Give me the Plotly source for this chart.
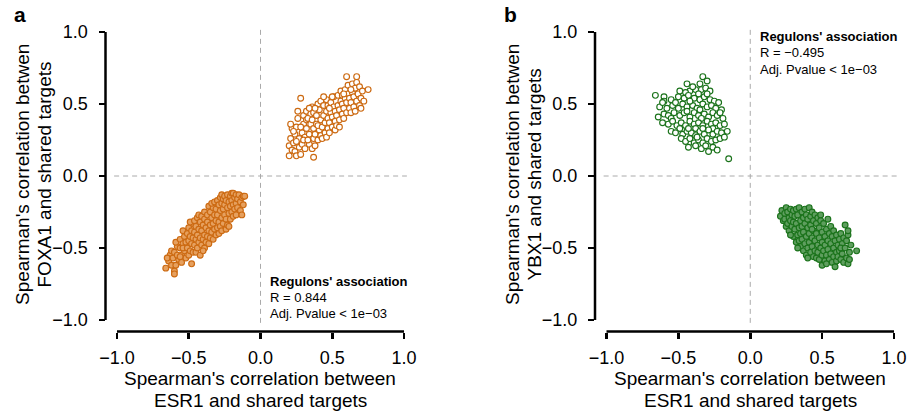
import plotly.graph_objects as go

# ---------------- data ----------------
TICK_VALS = [-1.0, -0.5, 0.0, 0.5, 1.0]
TICK_TEXT = ["\u22121.0", "\u22120.5", "0.0", "0.5", "1.0"]

X_TITLE = ["Spearman's correlation between", "ESR1 and shared targets"]
Y_TITLE_A = ["Spearman's correlation betwen", "FOXA1 and shared targets"]
Y_TITLE_B = ["Spearman's correlation betwen", "YBX1 and shared targets"]
STATS_A = ["Regulons' association", "R = 0.844", "Adj. Pvalue < 1e\u221203"]
STATS_B = ["Regulons' association", "R = \u22120.495", "Adj. Pvalue < 1e\u221203"]

# panel a, positive quadrant (open circles)
A_POS = [
    (0.20, 0.14), (0.20, 0.21), (0.21, 0.26), (0.22, 0.18), (0.22, 0.33), (0.21, 0.36),
    (0.24, 0.17), (0.25, 0.14), (0.23, 0.23), (0.24, 0.29), (0.25, 0.34), (0.26, 0.40),
    (0.26, 0.45), (0.27, 0.20), (0.27, 0.26), (0.25, 0.24), (0.23, 0.31),
    (0.28, 0.54), (0.28, 0.15), (0.29, 0.22), (0.29, 0.30), (0.30, 0.36), (0.30, 0.42),
    (0.31, 0.19), (0.31, 0.27), (0.32, 0.33), (0.32, 0.39), (0.28, 0.34), (0.30, 0.25), (0.32, 0.45),
    (0.37, 0.13), (0.34, 0.22), (0.34, 0.29), (0.35, 0.36), (0.35, 0.43), (0.36, 0.48),
    (0.36, 0.19), (0.37, 0.26), (0.37, 0.33), (0.33, 0.40), (0.34, 0.47), (0.36, 0.39),
    (0.33, 0.25), (0.37, 0.44),
    (0.38, 0.21), (0.38, 0.29), (0.39, 0.36), (0.39, 0.42), (0.40, 0.50), (0.40, 0.25),
    (0.41, 0.32), (0.41, 0.46), (0.42, 0.39), (0.42, 0.52), (0.38, 0.47), (0.40, 0.35), (0.42, 0.28),
    (0.43, 0.26), (0.43, 0.34), (0.44, 0.42), (0.44, 0.49), (0.45, 0.30), (0.45, 0.37),
    (0.46, 0.45), (0.46, 0.53), (0.47, 0.33), (0.47, 0.40), (0.44, 0.55), (0.46, 0.27), (0.47, 0.49),
    (0.48, 0.30), (0.48, 0.37), (0.49, 0.44), (0.49, 0.51), (0.50, 0.34), (0.50, 0.41),
    (0.51, 0.48), (0.51, 0.55), (0.52, 0.38), (0.52, 0.45), (0.50, 0.55), (0.48, 0.47), (0.52, 0.32),
    (0.53, 0.35), (0.53, 0.42), (0.54, 0.49), (0.54, 0.56), (0.55, 0.39), (0.55, 0.46),
    (0.56, 0.52), (0.56, 0.59), (0.57, 0.43), (0.57, 0.50), (0.55, 0.34), (0.57, 0.56),
    (0.58, 0.40), (0.58, 0.47), (0.59, 0.54), (0.59, 0.60), (0.60, 0.69), (0.60, 0.44),
    (0.60, 0.51), (0.61, 0.57), (0.61, 0.63), (0.62, 0.47), (0.62, 0.54), (0.58, 0.57),
    (0.63, 0.44), (0.63, 0.51), (0.64, 0.58), (0.64, 0.64), (0.65, 0.48), (0.65, 0.55),
    (0.66, 0.61), (0.67, 0.69), (0.67, 0.65), (0.67, 0.52), (0.66, 0.45), (0.63, 0.60),
    (0.68, 0.57), (0.69, 0.49), (0.69, 0.62), (0.70, 0.54), (0.71, 0.59), (0.72, 0.52),
    (0.75, 0.60), (0.70, 0.47),
]

# panel a, negative quadrant (filled circles)
A_NEG = [
    (-0.66, -0.64), (-0.64, -0.59), (-0.63, -0.55), (-0.62, -0.62), (-0.65, -0.57), (-0.62, -0.52),
    (-0.60, -0.66), (-0.60, -0.68), (-0.59, -0.62), (-0.61, -0.57), (-0.60, -0.53), (-0.58, -0.49),
    (-0.57, -0.58), (-0.59, -0.46), (-0.58, -0.55),
    (-0.56, -0.50), (-0.56, -0.44), (-0.55, -0.60), (-0.55, -0.55), (-0.54, -0.38), (-0.54, -0.47),
    (-0.53, -0.52), (-0.53, -0.42), (-0.52, -0.57), (-0.52, -0.46), (-0.56, -0.56), (-0.54, -0.50),
    (-0.51, -0.40), (-0.51, -0.50), (-0.50, -0.36), (-0.50, -0.45), (-0.50, -0.55), (-0.49, -0.42),
    (-0.49, -0.52), (-0.48, -0.61), (-0.48, -0.38), (-0.48, -0.47), (-0.47, -0.33), (-0.47, -0.43),
    (-0.47, -0.53), (-0.49, -0.32),
    (-0.46, -0.31), (-0.46, -0.39), (-0.46, -0.48), (-0.45, -0.35), (-0.45, -0.44), (-0.45, -0.53),
    (-0.44, -0.29), (-0.44, -0.41), (-0.44, -0.50), (-0.43, -0.37), (-0.43, -0.46), (-0.42, -0.55),
    (-0.42, -0.32), (-0.42, -0.43), (-0.43, -0.27),
    (-0.41, -0.28), (-0.41, -0.38), (-0.41, -0.48), (-0.40, -0.34), (-0.40, -0.44), (-0.39, -0.25),
    (-0.39, -0.30), (-0.39, -0.41), (-0.39, -0.50), (-0.38, -0.36), (-0.38, -0.46), (-0.37, -0.27),
    (-0.37, -0.32), (-0.37, -0.42), (-0.40, -0.52),
    (-0.36, -0.21), (-0.36, -0.38), (-0.36, -0.47), (-0.35, -0.25), (-0.35, -0.34), (-0.35, -0.43),
    (-0.34, -0.29), (-0.34, -0.39), (-0.33, -0.22), (-0.33, -0.33), (-0.33, -0.44), (-0.32, -0.27),
    (-0.32, -0.37), (-0.34, -0.19), (-0.32, -0.18),
    (-0.31, -0.23), (-0.31, -0.31), (-0.31, -0.41), (-0.30, -0.17), (-0.30, -0.27), (-0.30, -0.36),
    (-0.29, -0.20), (-0.29, -0.32), (-0.29, -0.40), (-0.28, -0.15), (-0.28, -0.24), (-0.28, -0.35),
    (-0.27, -0.13), (-0.27, -0.19), (-0.27, -0.29), (-0.27, -0.38),
    (-0.26, -0.16), (-0.26, -0.23), (-0.26, -0.33), (-0.25, -0.14), (-0.25, -0.20), (-0.25, -0.27),
    (-0.24, -0.17), (-0.24, -0.30), (-0.24, -0.37), (-0.23, -0.13), (-0.23, -0.22), (-0.23, -0.34),
    (-0.22, -0.18), (-0.22, -0.26), (-0.22, -0.35),
    (-0.21, -0.14), (-0.21, -0.21), (-0.21, -0.30), (-0.20, -0.12), (-0.20, -0.17), (-0.20, -0.25),
    (-0.19, -0.12), (-0.19, -0.20), (-0.19, -0.28), (-0.18, -0.15), (-0.18, -0.23), (-0.17, -0.13),
    (-0.17, -0.19), (-0.17, -0.27),
    (-0.16, -0.16), (-0.16, -0.22), (-0.15, -0.13), (-0.14, -0.18), (-0.14, -0.24), (-0.13, -0.27),
    (-0.13, -0.15), (-0.12, -0.14), (-0.11, -0.14), (-0.12, -0.20),
]

# panel b, upper-left quadrant (open circles)
B_POS = [
    (-0.33, 0.69), (-0.30, 0.66), (-0.44, 0.64), (-0.35, 0.64),
    (-0.42, 0.59), (-0.38, 0.60), (-0.34, 0.60), (-0.31, 0.61), (-0.49, 0.59), (-0.36, 0.57),
    (-0.28, 0.59), (-0.45, 0.58), (-0.40, 0.62),
    (-0.66, 0.56), (-0.60, 0.55), (-0.50, 0.55), (-0.46, 0.54), (-0.43, 0.56), (-0.39, 0.54),
    (-0.35, 0.53), (-0.32, 0.55), (-0.28, 0.53), (-0.25, 0.52), (-0.55, 0.53), (-0.60, 0.52),
    (-0.30, 0.57), (-0.22, 0.51),
    (-0.63, 0.48), (-0.58, 0.47), (-0.54, 0.49), (-0.50, 0.47), (-0.47, 0.50), (-0.44, 0.48),
    (-0.40, 0.49), (-0.37, 0.47), (-0.33, 0.50), (-0.30, 0.48), (-0.27, 0.49), (-0.24, 0.47),
    (-0.61, 0.51), (-0.52, 0.51), (-0.42, 0.52), (-0.35, 0.46), (-0.20, 0.46),
    (-0.64, 0.41), (-0.60, 0.43), (-0.57, 0.42), (-0.53, 0.44), (-0.49, 0.42), (-0.46, 0.44),
    (-0.42, 0.41), (-0.39, 0.44), (-0.36, 0.42), (-0.32, 0.43), (-0.29, 0.41), (-0.26, 0.44),
    (-0.23, 0.42), (-0.21, 0.44), (-0.55, 0.40), (-0.44, 0.45), (-0.34, 0.40), (-0.19, 0.40),
    (-0.61, 0.37), (-0.57, 0.36), (-0.54, 0.38), (-0.51, 0.35), (-0.48, 0.37), (-0.45, 0.35),
    (-0.42, 0.38), (-0.39, 0.36), (-0.36, 0.37), (-0.33, 0.35), (-0.30, 0.38), (-0.27, 0.36),
    (-0.24, 0.37), (-0.21, 0.35), (-0.18, 0.36), (-0.49, 0.33), (-0.38, 0.33), (-0.26, 0.33),
    (-0.55, 0.31), (-0.52, 0.30), (-0.47, 0.29), (-0.44, 0.31), (-0.41, 0.30), (-0.38, 0.28),
    (-0.35, 0.31), (-0.32, 0.29), (-0.29, 0.32), (-0.26, 0.29), (-0.23, 0.31), (-0.20, 0.30),
    (-0.16, 0.31), (-0.43, 0.33), (-0.33, 0.33),
    (-0.48, 0.26), (-0.45, 0.24), (-0.42, 0.26), (-0.39, 0.23), (-0.36, 0.25), (-0.33, 0.23),
    (-0.30, 0.26), (-0.27, 0.24), (-0.24, 0.25), (-0.21, 0.26), (-0.18, 0.27), (-0.37, 0.27),
    (-0.43, 0.20), (-0.38, 0.21), (-0.34, 0.19), (-0.29, 0.17), (-0.26, 0.20), (-0.23, 0.18),
    (-0.31, 0.21),
    (-0.15, 0.12),
]

# panel b, lower-right quadrant (filled circles)
B_NEG = [
    (0.21, -0.28), (0.22, -0.24), (0.23, -0.31), (0.24, -0.26), (0.25, -0.35), (0.25, -0.22), (0.24, -0.30),
    (0.26, -0.25), (0.26, -0.33), (0.27, -0.29), (0.27, -0.38), (0.28, -0.23), (0.28, -0.31),
    (0.29, -0.27), (0.29, -0.35), (0.30, -0.42), (0.30, -0.24), (0.30, -0.32), (0.28, -0.41),
    (0.31, -0.28), (0.31, -0.37), (0.32, -0.46), (0.32, -0.23), (0.32, -0.33), (0.33, -0.41),
    (0.33, -0.27), (0.34, -0.36), (0.34, -0.45), (0.34, -0.22), (0.35, -0.31), (0.35, -0.40),
    (0.35, -0.49), (0.33, -0.50),
    (0.36, -0.25), (0.36, -0.35), (0.36, -0.44), (0.37, -0.29), (0.37, -0.39), (0.37, -0.52),
    (0.38, -0.23), (0.38, -0.33), (0.38, -0.47), (0.39, -0.27), (0.39, -0.42), (0.39, -0.55),
    (0.40, -0.36), (0.40, -0.50), (0.40, -0.57), (0.40, -0.30),
    (0.41, -0.22), (0.41, -0.40), (0.41, -0.46), (0.42, -0.28), (0.42, -0.34), (0.42, -0.53),
    (0.43, -0.25), (0.43, -0.43), (0.43, -0.49), (0.44, -0.31), (0.44, -0.38), (0.44, -0.56),
    (0.45, -0.27), (0.45, -0.45), (0.45, -0.52), (0.43, -0.37),
    (0.46, -0.33), (0.46, -0.40), (0.46, -0.57), (0.47, -0.29), (0.47, -0.48), (0.47, -0.53),
    (0.48, -0.36), (0.48, -0.43), (0.48, -0.58), (0.49, -0.31), (0.49, -0.50), (0.50, -0.39),
    (0.50, -0.46), (0.50, -0.55), (0.50, -0.62), (0.49, -0.27),
    (0.51, -0.33), (0.51, -0.52), (0.52, -0.42), (0.52, -0.48), (0.52, -0.59), (0.53, -0.37),
    (0.53, -0.55), (0.54, -0.30), (0.54, -0.45), (0.54, -0.51), (0.55, -0.40), (0.55, -0.58), (0.53, -0.61),
    (0.56, -0.35), (0.56, -0.47), (0.56, -0.54), (0.57, -0.42), (0.57, -0.60), (0.58, -0.38),
    (0.58, -0.50), (0.58, -0.56), (0.59, -0.45), (0.59, -0.63), (0.60, -0.41), (0.60, -0.53), (0.60, -0.59),
    (0.61, -0.48), (0.61, -0.56), (0.62, -0.44), (0.62, -0.52), (0.63, -0.40), (0.63, -0.58),
    (0.64, -0.47), (0.64, -0.54), (0.65, -0.43), (0.65, -0.60), (0.63, -0.50),
    (0.66, -0.34), (0.66, -0.50), (0.67, -0.57), (0.67, -0.45), (0.68, -0.41), (0.68, -0.61),
    (0.69, -0.53), (0.69, -0.58), (0.70, -0.48), (0.74, -0.52), (0.68, -0.38),
]

# ---------------- styling ----------------
W, H = 909, 413
FONT = "Liberation Sans, Arial, Helvetica, sans-serif"
ORANGE_LINE = "#CC6A12"
ORANGE_FILL = "#E6A05E"
GREEN_LINE = "#1B731B"
GREEN_FILL = "#5E9E5E"
DASH_COLOR = "#AAAAAA"
RANGE = [-1.08, 1.08]


def px(x):
    return x / W


def py(y):
    return 1 - y / H


Y_DOMAIN = [py(331.5), py(20.5)]
X_DOMAIN_A = [px(105.5), px(415.5)]
X_DOMAIN_B = [px(595.0), px(905.5)]

fig = go.Figure()


def add_points(pts, xa, ya, line_color, fill_color):
    fig.add_trace(go.Scatter(
        x=[p[0] for p in pts], y=[p[1] for p in pts],
        xaxis=xa, yaxis=ya, mode="markers", showlegend=False, hoverinfo="skip",
        marker=dict(symbol="circle", size=5.8, color=fill_color,
                    line=dict(color=line_color, width=1.15)),
    ))


add_points(A_POS, "x", "y", ORANGE_LINE, "white")
add_points(A_NEG, "x", "y", ORANGE_LINE, ORANGE_FILL)
add_points(B_POS, "x2", "y2", GREEN_LINE, "white")
add_points(B_NEG, "x2", "y2", GREEN_LINE, GREEN_FILL)

axis_common = dict(
    range=RANGE, tickvals=TICK_VALS, ticktext=TICK_TEXT, ticks="outside",
    ticklen=6, tickwidth=2.5, tickcolor="black", showline=False, showgrid=False,
    zeroline=False, tickfont=dict(family=FONT, size=18, color="black"),
    automargin=False, fixedrange=True,
)

fig.update_layout(
    width=W, height=H, template="none",
    margin=dict(l=0, r=0, t=0, b=0, pad=0),
    paper_bgcolor="white", plot_bgcolor="white",
    font=dict(family=FONT, color="black"),
    xaxis=dict(domain=X_DOMAIN_A, anchor="y", ticklabelstandoff=4, **axis_common),
    yaxis=dict(domain=Y_DOMAIN, anchor="x", ticklabelstandoff=7, **axis_common),
    xaxis2=dict(domain=X_DOMAIN_B, anchor="y2", ticklabelstandoff=4, **axis_common),
    yaxis2=dict(domain=Y_DOMAIN, anchor="x2", ticklabelstandoff=7, **axis_common),
)

shapes = []
for xr, yr, xdom in (("x", "y", X_DOMAIN_A), ("x2", "y2", X_DOMAIN_B)):
    # dashed reference lines
    shapes.append(dict(type="line", xref=xr, yref=yr, x0=0, x1=0, y0=-1.02, y1=1.02,
                       line=dict(color=DASH_COLOR, width=1, dash="5px,4px"), layer="below"))
    shapes.append(dict(type="line", xref=xr, yref=yr, x0=-1.02, x1=1.02, y0=0, y1=0,
                       line=dict(color=DASH_COLOR, width=1, dash="5px,4px"), layer="below"))
    # R-style axis lines spanning only the tick range
    shapes.append(dict(type="line", xref=xr, yref="paper", x0=-1, x1=1,
                       y0=Y_DOMAIN[0], y1=Y_DOMAIN[0], line=dict(color="black", width=2.5)))
    shapes.append(dict(type="line", xref="paper", yref=yr, x0=xdom[0], x1=xdom[0],
                       y0=-1, y1=1, line=dict(color="black", width=2.5)))
fig.update_layout(shapes=shapes)

ann = []


def text(x, y, s, size, bold=False, xanchor="center", angle=0):
    ann.append(dict(xref="paper", yref="paper", x=px(x), y=py(y), text=("<b>%s</b>" % s) if bold else s,
                    showarrow=False, xanchor=xanchor, yanchor="middle", textangle=angle,
                    font=dict(family=FONT, size=size, color="black")))


# panel letters
text(12, 14, "a", 21, bold=True, xanchor="left")
text(502, 14, "b", 21, bold=True, xanchor="left")

# x titles
for cx in (260.0, 750.3):
    text(cx, 378.5, X_TITLE[0], 19)
    text(cx, 400, X_TITLE[1], 19)

# y titles
text(22.0, 175, Y_TITLE_A[0], 19, angle=-90)
text(43.5, 175, Y_TITLE_A[1], 19, angle=-90)
text(512.0, 175, Y_TITLE_B[0], 19, angle=-90)
text(533.5, 175, Y_TITLE_B[1], 19, angle=-90)

# stats text
for (x0, y0, lines) in ((268, 281, STATS_A), (758, 36.5, STATS_B)):
    for i, s in enumerate(lines):
        text(x0, y0 + 16.3 * i, s, 13, bold=(i == 0), xanchor="left")

fig.update_layout(annotations=ann)

# remove the browser's default 8px page margin so the figure sits at the window origin
fig.write_html(
    "out.html",
    config={"displayModeBar": False, "staticPlot": True},
    post_script="document.body.style.margin='0';document.body.style.overflow='hidden';",
)
